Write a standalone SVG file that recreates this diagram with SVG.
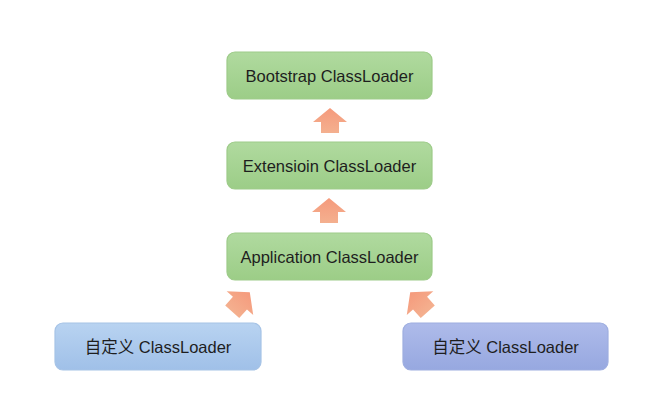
<svg xmlns="http://www.w3.org/2000/svg" width="664" height="404" viewBox="0 0 664 404">
<style>
.box{stroke-width:1.2}
.g{fill:url(#gg);stroke:#9dcb89}
.b1{fill:url(#gb1);stroke:#a6c3e6}
.b2{fill:url(#gb2);stroke:#9eaee0}
.t{font-family:"Liberation Sans","Noto Sans CJK SC",sans-serif;font-size:16.5px;fill:#1e1e1e;text-anchor:middle}
.arr{fill:url(#ga)}
</style>
<defs>
<linearGradient id="gg" x1="0" y1="0" x2="0" y2="1"><stop offset="0" stop-color="#b0da9f"/><stop offset="1" stop-color="#9ccd87"/></linearGradient>
<linearGradient id="gb1" x1="0" y1="0" x2="0" y2="1"><stop offset="0" stop-color="#b8d3f1"/><stop offset="1" stop-color="#a0c0e8"/></linearGradient>
<linearGradient id="gb2" x1="0" y1="0" x2="0" y2="1"><stop offset="0" stop-color="#aebbea"/><stop offset="1" stop-color="#97a8e0"/></linearGradient>
<linearGradient id="ga" x1="0" y1="0" x2="0" y2="1"><stop offset="0" stop-color="#f59a7c"/><stop offset="1" stop-color="#f4b08f"/></linearGradient>
<path id="up" d="M0,-12.5 L17,1.5 L9,1.5 L9,12.5 L-9,12.5 L-9,1.5 L-17,1.5 Z"/>
</defs>
<rect width="664" height="404" fill="#ffffff"/>
<g id="connectors">
<use href="#up" class="arr" transform="translate(330,120.5)"/>
<use href="#up" class="arr" transform="translate(329,210.5)"/>
<use href="#up" class="arr" transform="translate(241,302) rotate(42) scale(1.05)"/>
<use href="#up" class="arr" transform="translate(419,302) rotate(-42) scale(1.05)"/>
</g>
<g id="bootstrap">
<rect class="box g" x="227" y="52" width="205" height="47" rx="8"/>
<text class="t" x="329.5" y="81.5">Bootstrap ClassLoader</text>
</g>
<g id="extension">
<rect class="box g" x="227" y="142" width="205" height="47" rx="8"/>
<text class="t" x="329.5" y="171.5">Extensioin ClassLoader</text>
</g>
<g id="application">
<rect class="box g" x="227" y="233" width="205" height="47" rx="8"/>
<text class="t" x="329.5" y="262.5">Application ClassLoader</text>
</g>
<g id="custom1">
<rect class="box b1" x="55" y="323" width="206" height="47" rx="8"/>
<text class="t" x="158" y="352.5">自定义 ClassLoader</text>
</g>
<g id="custom2">
<rect class="box b2" x="403" y="323" width="205" height="47" rx="8"/>
<text class="t" x="505.5" y="352.5">自定义 ClassLoader</text>
</g>
</svg>
